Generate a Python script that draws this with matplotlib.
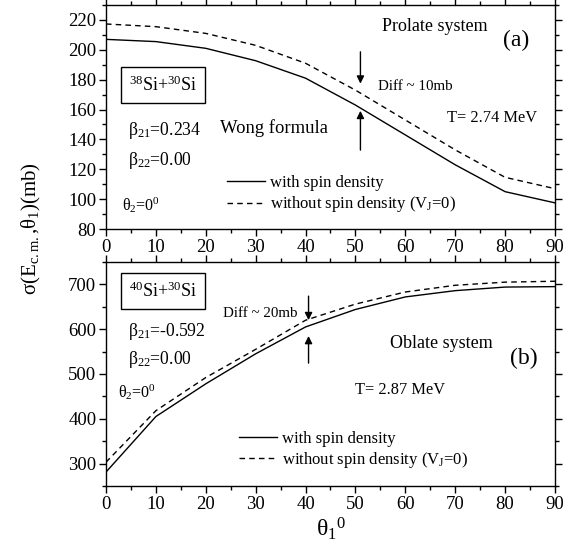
import matplotlib
matplotlib.use("Agg")
import matplotlib.pyplot as plt
from matplotlib.ticker import MultipleLocator

plt.rcParams['font.family'] = ['Liberation Serif', 'DejaVu Serif']
plt.rcParams['mathtext.fontset'] = 'custom'
plt.rcParams['mathtext.rm'] = 'Liberation Serif'
plt.rcParams['mathtext.it'] = 'Liberation Serif:italic'

theta1 = [0, 10, 20, 30, 40, 50, 60, 70, 80, 90]

# (a) prolate 38Si+30Si
prol_with = [207, 205.5, 201, 192.7, 181, 163, 143, 123, 105, 97.5]
prol_without = [217.3, 215.5, 211, 203, 191, 173, 153, 133, 114.6, 107]

# (b) oblate 40Si+30Si
obl_with = [281, 405, 478, 545, 605, 644, 672, 686, 694, 695]
obl_without = [303, 418, 492, 555, 620, 656, 683, 698, 705, 707]

fig = plt.figure(figsize=(5.71, 5.45), dpi=100)
ax1 = fig.add_axes([0.1856, 0.5798, 0.7864, 0.411])
ax2 = fig.add_axes([0.1856, 0.1083, 0.7864, 0.411])


def style(ax, ymaj, ymin):
    ax.set_xlim(0, 90)
    ax.xaxis.set_major_locator(MultipleLocator(10))
    ax.xaxis.set_minor_locator(MultipleLocator(5))
    ax.yaxis.set_major_locator(MultipleLocator(ymaj))
    ax.yaxis.set_minor_locator(MultipleLocator(ymin))
    ax.tick_params(which='both', direction='out', top=True, right=True,
                   labelsize=13.5, width=1)
    ax.tick_params(which='major', length=5, pad=2)
    ax.tick_params(which='minor', length=3)
    for s in ax.spines.values():
        s.set_linewidth(1)


def arrow(ax, x, y0, y1):
    ax.annotate('', xy=(x, y1), xytext=(x, y0),
                arrowprops=dict(arrowstyle='-|>', color='k', lw=1,
                                mutation_scale=11))


leg_kw = dict(loc='lower left', frameon=False, fontsize=12, handlelength=2.25,
              handletextpad=0.3, labelspacing=0.2, borderpad=0)
box = dict(boxstyle='square,pad=0.45', fc='white', ec='k', lw=1)

# top panel
ax1.plot(theta1, prol_with, 'k-', lw=1, label='with spin density')
ax1.plot(theta1, prol_without, 'k--', lw=1, dashes=(4, 3),
         label='without spin density (V$_{\\mathrm{J}}$=0)')
ax1.set_ylim(80, 230)
style(ax1, 20, 10)
ax1.legend(bbox_to_anchor=(0.252, 0.028), **leg_kw)
ax1.text(0.127, 0.643, '$^{38}$Si+$^{30}$Si', transform=ax1.transAxes,
         fontsize=13, ha='center', va='center', bbox=box)
ax1.text(0.048, 0.442, 'β$_{21}$=0.234', transform=ax1.transAxes, fontsize=12.7,
         va='center')
ax1.text(0.048, 0.308, 'β$_{22}$=0.00', transform=ax1.transAxes, fontsize=12.7,
         va='center')
ax1.text(0.035, 0.107, 'θ$_{2}$=0$^{0}$', transform=ax1.transAxes, fontsize=11.5,
         va='center')
ax1.text(0.253, 0.45, 'Wong formula', transform=ax1.transAxes, fontsize=13.4,
         va='center')
ax1.text(0.615, 0.902, 'Prolate system', transform=ax1.transAxes, fontsize=13,
         va='center')
ax1.text(0.885, 0.84, '(a)', transform=ax1.transAxes, fontsize=17,
         va='center')
ax1.text(0.605, 0.634, 'Diff ~ 10mb', transform=ax1.transAxes, fontsize=10.8,
         va='center')
ax1.text(0.76, 0.496, 'T= 2.74 MeV', transform=ax1.transAxes, fontsize=11.8,
         va='center')
arrow(ax1, 51, 200.5, 175.5)
arrow(ax1, 51, 131, 161)

# bottom panel
ax2.plot(theta1, obl_with, 'k-', lw=1, label='with spin density')
ax2.plot(theta1, obl_without, 'k--', lw=1, dashes=(4, 3),
         label='without spin density (V$_{\\mathrm{J}}$=0)')
ax2.set_ylim(250, 750)
style(ax2, 100, 50)
ax2.legend(bbox_to_anchor=(0.278, 0.034), **leg_kw)
ax2.text(0.127, 0.871, '$^{40}$Si+$^{30}$Si', transform=ax2.transAxes,
         fontsize=13, ha='center', va='center', bbox=box)
ax2.text(0.048, 0.6875, 'β$_{21}$=-0.592', transform=ax2.transAxes, fontsize=12.7,
         va='center')
ax2.text(0.048, 0.5625, 'β$_{22}$=0.00', transform=ax2.transAxes, fontsize=12.7,
         va='center')
ax2.text(0.026, 0.42, 'θ$_{2}$=0$^{0}$', transform=ax2.transAxes, fontsize=11.5,
         va='center')
ax2.text(0.26, 0.768, 'Diff ~ 20mb', transform=ax2.transAxes, fontsize=10.8,
         va='center')
ax2.text(0.632, 0.638, 'Oblate system', transform=ax2.transAxes, fontsize=13,
         va='center')
ax2.text(0.9, 0.571, '(b)', transform=ax2.transAxes, fontsize=17,
         va='center')
ax2.text(0.555, 0.429, 'T= 2.87 MeV', transform=ax2.transAxes, fontsize=11.8,
         va='center')
arrow(ax2, 40.6, 680, 614)
arrow(ax2, 40.6, 518, 591)

fig.text(0.056, 0.58, 'σ(E$_{\\mathrm{c.m.}}$,θ$_{1}$)(mb)', rotation=90,
         fontsize=15, ha='center', va='center')
fig.text(0.58, 0.03, 'θ$_{1}$$^{0}$', fontsize=17, ha='center', va='center')

fig.savefig('out.png', dpi=100)
